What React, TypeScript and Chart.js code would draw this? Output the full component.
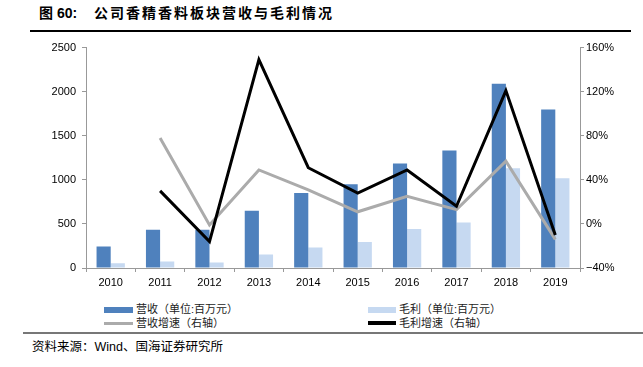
import React, { useEffect, useRef } from "react";
import { Chart, registerables } from "chart.js";

Chart.register(...registerables);

const categories = ["2010", "2011", "2012", "2013", "2014", "2015", "2016", "2017", "2018", "2019"];
const revenue = [245, 435, 435, 650, 852, 950, 1185, 1334, 2089, 1797];
const grossProfit = [55, 75, 62, 153, 232, 295, 441, 516, 1132, 1017];
const revenueGrowth = [null, 78, -1, 49, 31, 11, 25, 13, 57, -14];
const profitGrowth = [null, 30, -16, 149, 51, 28, 49, 16, 121, -10];
const leftTicks = [0, 500, 1000, 1500, 2000, 2500];
const rightTicks = [-40, 0, 40, 80, 120, 160];

const labelRevenue = "营收（单位:百万元）";
const labelProfit = "毛利（单位:百万元）";
const labelRevGrowth = "营收增速（右轴）";
const labelProfitGrowth = "毛利增速（右轴）";

const FONT = '"Liberation Sans", "Noto Sans CJK SC", sans-serif';
const DARK = "#4F81BD";
const LIGHT = "#C6D9F1";
const GRAY = "#ABABAB";

export default function App() {
  const ref = useRef<HTMLCanvasElement | null>(null);

  useEffect(() => {
    document.body.style.margin = "0";
    const canvas = ref.current;
    if (!canvas) return;
    const chart = new Chart(canvas, {
      type: "bar",
      data: {
        labels: categories,
        datasets: [
          {
            type: "line",
            label: labelProfitGrowth,
            data: profitGrowth,
            yAxisID: "y1",
            borderColor: "#000000",
            borderWidth: 3,
            pointRadius: 0,
            tension: 0,
            order: 0,
          },
          {
            type: "line",
            label: labelRevGrowth,
            data: revenueGrowth,
            yAxisID: "y1",
            borderColor: GRAY,
            borderWidth: 3,
            pointRadius: 0,
            tension: 0,
            order: 1,
          },
          {
            type: "bar",
            label: labelRevenue,
            data: revenue,
            yAxisID: "y",
            backgroundColor: DARK,
            categoryPercentage: 0.573,
            barPercentage: 1,
            order: 2,
          },
          {
            type: "bar",
            label: labelProfit,
            data: grossProfit,
            yAxisID: "y",
            backgroundColor: LIGHT,
            categoryPercentage: 0.573,
            barPercentage: 1,
            order: 3,
          },
        ],
      },
      options: {
        animation: false,
        responsive: false,
        maintainAspectRatio: false,
        layout: { padding: { top: 10, left: 0, right: 0, bottom: 0 } },
        plugins: { legend: { display: false }, tooltip: { enabled: false } },
        scales: {
          x: {
            offset: true,
            grid: { drawOnChartArea: false, drawTicks: true, tickLength: 4, tickColor: "#999", offset: true },
            border: { color: "#999", width: 1 },
            ticks: { color: "#000", font: { family: FONT, size: 11 }, padding: 4, maxRotation: 0 },
            afterFit: (s: any) => { s.height = 32; },
          },
          y: {
            position: "left",
            min: 0,
            max: 2500,
            afterBuildTicks: (s: any) => { s.ticks = leftTicks.map((v) => ({ value: v })); },
            grid: { drawOnChartArea: false, drawTicks: true, tickLength: 4, tickColor: "#999" },
            border: { color: "#999", width: 1 },
            ticks: { color: "#000", font: { family: FONT, size: 11 }, padding: 6, callback: (v: any) => String(v) },
            afterFit: (s: any) => { s.width = 86; },
          },
          y1: {
            position: "right",
            min: -40,
            max: 160,
            afterBuildTicks: (s: any) => { s.ticks = rightTicks.map((v) => ({ value: v })); },
            grid: { drawOnChartArea: false, drawTicks: true, tickLength: 4, tickColor: "#999" },
            border: { color: "#999", width: 1 },
            ticks: {
              color: "#000",
              font: { family: FONT, size: 11 },
              padding: 2,
              callback: (v: any) => (v < 0 ? "\u2212" + Math.abs(v) : String(v)) + "%",
            },
            afterFit: (s: any) => { s.width = 63; },
          },
        },
      },
    });
    return () => chart.destroy();
  }, []);

  const textStyle: React.CSSProperties = {
    position: "absolute",
    fontSize: 11,
    color: "#222",
    whiteSpace: "nowrap",
    lineHeight: "14px",
  };

  return (
    <div style={{ position: "absolute", left: 0, top: 0, width: 643, height: 367, background: "#fff", fontFamily: FONT, overflow: "hidden" }}>
      <div style={{ position: "absolute", left: 39, top: 4, fontSize: 14, fontWeight: "bold", lineHeight: "18px", whiteSpace: "nowrap" }}>图 60:</div>
      <div style={{ position: "absolute", left: 94, top: 4, fontSize: 14, fontWeight: "bold", lineHeight: "18px", letterSpacing: 2, whiteSpace: "nowrap" }}>公司香精香料板块营收与毛利情况</div>
      <div style={{ position: "absolute", left: 30, top: 30, width: 601, height: 1.5, background: "#000" }} />
      <canvas ref={ref} width={643} height={265} style={{ position: "absolute", left: 0, top: 35, width: 643, height: 265 }} />
      {/* legend */}
      <div style={{ position: "absolute", left: 104, top: 307, width: 29, height: 6, background: DARK }} />
      <div style={{ ...textStyle, left: 136, top: 302 }}>{labelRevenue}</div>
      <div style={{ position: "absolute", left: 368, top: 307, width: 28, height: 6, background: LIGHT }} />
      <div style={{ ...textStyle, left: 399, top: 302 }}>{labelProfit}</div>
      <div style={{ position: "absolute", left: 104, top: 322, width: 29, height: 3, background: GRAY }} />
      <div style={{ ...textStyle, left: 136, top: 316 }}>{labelRevGrowth}</div>
      <div style={{ position: "absolute", left: 368, top: 321, width: 28, height: 4, background: "#000" }} />
      <div style={{ ...textStyle, left: 399, top: 316 }}>{labelProfitGrowth}</div>
      <div style={{ position: "absolute", left: 23, top: 332, width: 620, height: 1.5, background: "#777" }} />
      <div style={{ position: "absolute", left: 32, top: 339, fontSize: 12.5, lineHeight: "16px", whiteSpace: "nowrap", color: "#000" }}>资料来源：Wind、国海证券研究所</div>
    </div>
  );
}
